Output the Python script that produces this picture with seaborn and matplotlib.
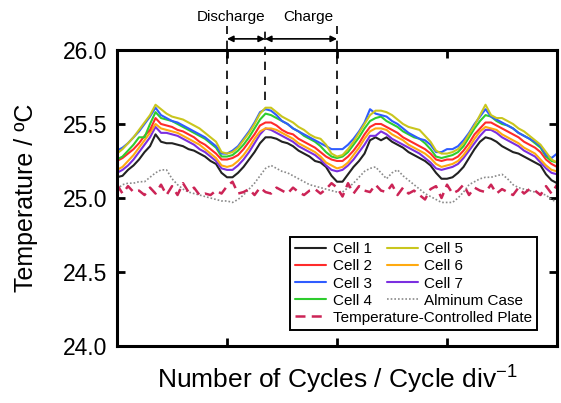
import numpy as np
import pandas as pd
import matplotlib
matplotlib.use("Agg")
import matplotlib.pyplot as plt
import seaborn as sns

sns.set_style("ticks")
plt.rcParams['font.family'] = ['Liberation Sans', 'DejaVu Sans']
plt.rcParams['mathtext.fontset'] = 'custom'
plt.rcParams['mathtext.rm'] = 'Liberation Sans'
plt.rcParams['mathtext.it'] = 'Liberation Sans'
for k in ['text.color', 'axes.labelcolor', 'xtick.color', 'ytick.color', 'axes.edgecolor']:
    plt.rcParams[k] = 'black'

# ---------------- data ----------------
cycles = [round(i * 0.05, 2) for i in range(81)]

cell1 = [25.14, 25.15, 25.19, 25.22, 25.26, 25.31, 25.35, 25.43, 25.38, 25.37, 25.37, 25.36, 25.35, 25.33, 25.32, 25.30, 25.28, 25.25, 25.23, 25.17,
         25.14, 25.14, 25.17, 25.21, 25.26, 25.31, 25.37, 25.41, 25.41, 25.40, 25.38, 25.37, 25.35, 25.32, 25.30, 25.28, 25.25, 25.24, 25.21, 25.15,
         25.11, 25.11, 25.16, 25.21, 25.25, 25.30, 25.39, 25.41, 25.39, 25.41, 25.38, 25.36, 25.34, 25.31, 25.29, 25.27, 25.25, 25.22, 25.17, 25.13,
         25.13, 25.14, 25.17, 25.21, 25.27, 25.33, 25.38, 25.41, 25.40, 25.38, 25.35, 25.33, 25.31, 25.30, 25.28, 25.26, 25.24, 25.22, 25.16, 25.12,
         25.10]
cell2 = [25.25, 25.27, 25.30, 25.33, 25.37, 25.42, 25.46, 25.54, 25.50, 25.49, 25.48, 25.46, 25.45, 25.43, 25.41, 25.38, 25.36, 25.33, 25.30, 25.26,
         25.26, 25.27, 25.29, 25.33, 25.38, 25.43, 25.49, 25.51, 25.51, 25.49, 25.46, 25.44, 25.43, 25.40, 25.38, 25.36, 25.34, 25.31, 25.28, 25.26,
         25.25, 25.25, 25.28, 25.32, 25.37, 25.43, 25.48, 25.50, 25.50, 25.48, 25.46, 25.44, 25.41, 25.39, 25.37, 25.35, 25.33, 25.30, 25.26, 25.25,
         25.26, 25.26, 25.28, 25.32, 25.37, 25.43, 25.47, 25.51, 25.51, 25.49, 25.47, 25.45, 25.43, 25.41, 25.38, 25.36, 25.34, 25.31, 25.26, 25.23,
         25.21]
cell3 = [25.32, 25.34, 25.37, 25.41, 25.45, 25.50, 25.55, 25.61, 25.56, 25.54, 25.52, 25.51, 25.49, 25.47, 25.45, 25.43, 25.41, 25.38, 25.35, 25.30,
         25.30, 25.32, 25.35, 25.40, 25.45, 25.51, 25.58, 25.60, 25.59, 25.56, 25.52, 25.50, 25.47, 25.45, 25.43, 25.41, 25.39, 25.37, 25.35, 25.33,
         25.33, 25.33, 25.36, 25.40, 25.45, 25.51, 25.60, 25.57, 25.56, 25.55, 25.52, 25.50, 25.47, 25.44, 25.42, 25.40, 25.39, 25.36, 25.31, 25.31,
         25.33, 25.33, 25.35, 25.39, 25.44, 25.50, 25.55, 25.60, 25.55, 25.53, 25.51, 25.49, 25.47, 25.44, 25.42, 25.40, 25.38, 25.35, 25.29, 25.27,
         25.30]
cell4 = [25.26, 25.28, 25.32, 25.36, 25.41, 25.41, 25.50, 25.58, 25.54, 25.53, 25.52, 25.50, 25.48, 25.46, 25.44, 25.42, 25.40, 25.37, 25.34, 25.28,
         25.28, 25.29, 25.32, 25.36, 25.41, 25.47, 25.53, 25.57, 25.56, 25.54, 25.52, 25.50, 25.47, 25.45, 25.42, 25.40, 25.38, 25.35, 25.31, 25.28,
         25.27, 25.28, 25.31, 25.36, 25.41, 25.47, 25.52, 25.54, 25.55, 25.52, 25.50, 25.48, 25.45, 25.43, 25.41, 25.40, 25.37, 25.33, 25.28, 25.27,
         25.28, 25.29, 25.31, 25.35, 25.41, 25.47, 25.52, 25.56, 25.55, 25.52, 25.50, 25.49, 25.47, 25.44, 25.42, 25.40, 25.37, 25.34, 25.28, 25.25,
         25.24]
cell5 = [25.30, 25.33, 25.37, 25.41, 25.46, 25.51, 25.56, 25.63, 25.60, 25.57, 25.55, 25.54, 25.53, 25.51, 25.49, 25.47, 25.44, 25.41, 25.38, 25.31,
         25.30, 25.31, 25.34, 25.39, 25.44, 25.50, 25.57, 25.61, 25.61, 25.58, 25.55, 25.53, 25.51, 25.48, 25.46, 25.43, 25.41, 25.40, 25.36, 25.30,
         25.28, 25.29, 25.33, 25.38, 25.44, 25.50, 25.56, 25.59, 25.59, 25.58, 25.56, 25.53, 25.50, 25.48, 25.47, 25.46, 25.42, 25.38, 25.32, 25.30,
         25.30, 25.31, 25.33, 25.37, 25.43, 25.49, 25.56, 25.63, 25.56, 25.54, 25.54, 25.52, 25.50, 25.47, 25.45, 25.42, 25.39, 25.36, 25.31, 25.26,
         25.24]
cell6 = [25.19, 25.21, 25.25, 25.29, 25.34, 25.39, 25.44, 25.50, 25.47, 25.46, 25.45, 25.44, 25.42, 25.40, 25.38, 25.36, 25.33, 25.30, 25.27, 25.22,
         25.21, 25.22, 25.25, 25.29, 25.34, 25.40, 25.45, 25.47, 25.47, 25.46, 25.44, 25.42, 25.40, 25.37, 25.35, 25.33, 25.31, 25.28, 25.24, 25.22,
         25.20, 25.21, 25.24, 25.29, 25.34, 25.40, 25.45, 25.47, 25.47, 25.46, 25.43, 25.41, 25.39, 25.36, 25.34, 25.32, 25.30, 25.27, 25.23, 25.21,
         25.22, 25.23, 25.25, 25.29, 25.34, 25.40, 25.45, 25.48, 25.47, 25.46, 25.43, 25.41, 25.39, 25.37, 25.34, 25.32, 25.30, 25.26, 25.22, 25.19,
         25.18]
cell7 = [25.17, 25.19, 25.22, 25.26, 25.31, 25.36, 25.41, 25.48, 25.44, 25.44, 25.43, 25.42, 25.40, 25.38, 25.36, 25.33, 25.31, 25.28, 25.25, 25.20,
         25.19, 25.19, 25.22, 25.26, 25.31, 25.37, 25.43, 25.47, 25.46, 25.44, 25.42, 25.40, 25.38, 25.35, 25.33, 25.31, 25.29, 25.26, 25.22, 25.19,
         25.18, 25.19, 25.22, 25.26, 25.31, 25.36, 25.42, 25.42, 25.45, 25.43, 25.40, 25.38, 25.36, 25.34, 25.32, 25.30, 25.27, 25.24, 25.20, 25.19,
         25.20, 25.21, 25.23, 25.27, 25.32, 25.37, 25.42, 25.46, 25.46, 25.44, 25.41, 25.39, 25.37, 25.35, 25.32, 25.30, 25.28, 25.24, 25.20, 25.17,
         25.16]
case = [25.06, 25.09, 25.10, 25.10, 25.11, 25.11, 25.14, 25.17, 25.19, 25.19, 25.13, 25.09, 25.06, 25.04, 25.03, 25.02, 25.01, 25.00, 24.99, 24.98,
        24.98, 24.97, 24.99, 25.02, 25.06, 25.10, 25.15, 25.20, 25.22, 25.20, 25.18, 25.17, 25.15, 25.13, 25.11, 25.09, 25.08, 25.07, 25.06, 25.05,
        25.04, 25.04, 25.07, 25.10, 25.14, 25.18, 25.20, 25.21, 25.17, 25.13, 25.17, 25.19, 25.15, 25.12, 25.09, 25.06, 25.03, 25.01, 24.99, 24.97,
        24.97, 24.97, 25.00, 25.04, 25.09, 25.11, 25.13, 25.14, 25.14, 25.15, 25.16, 25.13, 25.09, 25.07, 25.06, 25.05, 25.04, 25.03, 25.02, 24.99,
        24.97]
plate = [25.09, 25.03, 25.08, 25.04, 25.05, 25.02, 25.07, 25.03, 25.09, 25.02, 25.08, 25.02, 25.10, 25.04, 25.07, 25.02, 25.03, 25.02, 25.05, 25.03,
         25.08, 25.11, 25.03, 25.04, 25.06, 25.02, 25.07, 25.04, 25.03, 25.07, 25.05, 25.03, 25.07, 25.04, 25.02, 25.05, 25.06, 25.03, 25.06, 25.10,
         25.07, 25.01, 25.10, 25.03, 25.08, 25.05, 25.04, 25.09, 25.05, 25.04, 25.09, 25.02, 25.07, 25.03, 25.05, 25.02, 24.99, 25.06, 25.08, 25.00,
         25.09, 25.03, 25.05, 25.09, 25.02, 25.07, 25.05, 25.04, 25.09, 25.03, 25.06, 25.04, 25.02, 25.07, 25.03, 25.06, 25.05, 25.02, 25.08, 25.03,
         25.09]

y_ticks = [24.0, 24.5, 25.0, 25.5, 26.0]
x_ticks = [1, 2, 3]
phase_marks = [1.0, 1.345, 2.0]
phase_labels = ["Discharge", "Charge"]

# ---------------- styles ----------------
series = [
    ("Cell 1", cell1, "#222222", "-", 1.5),
    ("Cell 2", cell2, "#ff2b2b", "-", 1.5),
    ("Cell 3", cell3, "#2f5cff", "-", 1.5),
    ("Cell 4", cell4, "#2ecc2e", "-", 1.5),
    ("Cell 5", cell5, "#c9c61e", "-", 1.5),
    ("Cell 6", cell6, "#ffaa10", "-", 1.5),
    ("Cell 7", cell7, "#7b2fe0", "-", 1.5),
    ("Alminum Case", case, "#8a8a8a", ":", 1.2),
    ("Temperature-Controlled Plate", plate, "#cc2456", "--", 1.8),
]

fig = plt.figure(figsize=(5.61, 4.03), dpi=100)
ax = fig.add_axes([0.2086, 0.1414, 0.9929 - 0.2086, 0.876 - 0.1414])

handles = {}
draw_order = ["Alminum Case", "Temperature-Controlled Plate", "Cell 1", "Cell 7", "Cell 6",
              "Cell 2", "Cell 4", "Cell 3", "Cell 5"]
lookup = {s[0]: s for s in series}
for name in draw_order:
    _, vals, col, ls, lw = lookup[name]
    sns.lineplot(x=cycles, y=vals, ax=ax, color=col, linewidth=lw, label=name)
    line = ax.get_lines()[-1]
    line.set_linestyle(ls)
    if ls == "--":
        line.set_dashes((4, 2.5))
    if ls == ":":
        line.set_dashes((1, 1.2))
    handles[name] = line

ax.set_xlim(0, 4)
ax.set_ylim(24.0, 26.0)
ax.set_xticks(x_ticks)
ax.set_xticklabels([])
ax.set_yticks(y_ticks)
ax.set_yticklabels([f"{v:.1f}" for v in y_ticks], fontsize=16.5)
ax.tick_params(axis="both", direction="in", length=6, width=2, top=True, right=True, pad=7,
               colors="black")
for sp in ax.spines.values():
    sp.set_linewidth(2.2)
    sp.set_visible(True)
    sp.set_color("black")

ax.set_xlabel("Number of Cycles / Cycle div$^{-1}$", fontsize=19, labelpad=6)
ax.set_ylabel("Temperature / ºC", fontsize=18, labelpad=18)

# legends
if ax.get_legend():
    ax.get_legend().remove()
left_names = ["Cell 1", "Cell 2", "Cell 3", "Cell 4", "Temperature-Controlled Plate"]
right_names = ["Cell 5", "Cell 6", "Cell 7", "Alminum Case"]
leg_kw = dict(fontsize=11, handlelength=2.0, handletextpad=0.45, labelspacing=0.2,
              borderpad=0.35, borderaxespad=0, loc="upper left")
leg1 = ax.legend([handles[n] for n in left_names], left_names,
                 bbox_to_anchor=(0.393, 0.368), frameon=True, fancybox=False,
                 edgecolor="black", framealpha=1, **leg_kw)
leg1.get_frame().set_linewidth(1.4)
ax.add_artist(leg1)
leg2 = ax.legend([handles[n] for n in right_names], right_names,
                 bbox_to_anchor=(0.6015, 0.368), frameon=False, **leg_kw)

# phase annotations
y_top = 26.165
y_bot = [25.40, 25.66, 25.40]
for xm, yb in zip(phase_marks, y_bot):
    ax.plot([xm, xm], [yb, y_top], color="black", lw=1.2, ls=(0, (5, 4)), clip_on=False, zorder=5)
for (x0, x1) in [(phase_marks[0], phase_marks[1]), (phase_marks[1], phase_marks[2])]:
    ax.annotate("", xy=(x1, 26.075), xytext=(x0, 26.075), xycoords="data",
                arrowprops=dict(arrowstyle="<|-|>", color="black", lw=1.2,
                                shrinkA=0, shrinkB=0, mutation_scale=9),
                annotation_clip=False)
ax.text(1.034, 26.22, phase_labels[0], ha="center", va="center", fontsize=11)
ax.text(1.736, 26.22, phase_labels[1], ha="center", va="center", fontsize=11)

fig.savefig("out.png", dpi=100)
